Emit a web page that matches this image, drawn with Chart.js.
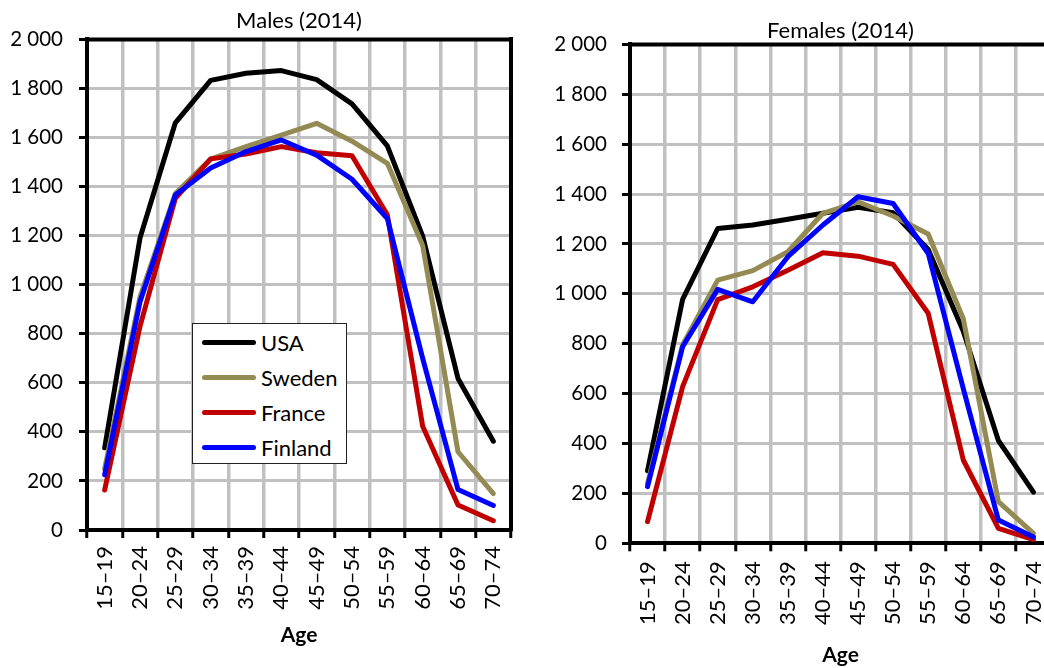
<!DOCTYPE html>
<html>
<head>
<meta charset="utf-8">
<title>Males and Females (2014)</title>
<script src="https://cdn.jsdelivr.net/npm/chart.js@4"></script>
<style>
  html, body { margin: 0; padding: 0; width: 1044px; height: 668px; overflow: hidden; background: #fff; }
  .wrap { position: absolute; top: 0; height: 668px; }
  #malesWrap { left: 0; width: 598px; }
  #femalesWrap { left: 540px; width: 601px; }
  #legend {
    position: absolute; left: 192px; top: 323px; width: 155px; height: 141px;
    border: 1px solid #222; background: #fff; box-sizing: border-box;
    font-family: Lato, sans-serif; font-size: 22px; color: #000; z-index: 5;
  }
  .row { position: absolute; left: 0; height: 35px; display: flex; align-items: center; }
  .swatch { width: 54px; height: 5px; border-radius: 3px; margin-left: 9px; margin-right: 5px; }
</style>
</head>
<body>
<div class="wrap" id="malesWrap"><canvas id="males"></canvas></div>
<div class="wrap" id="femalesWrap"><canvas id="females"></canvas></div>
<div id="legend"></div>

<script>
// Age groups on the x axis
const ageGroups = ['15–19', '20–24', '25–29', '30–34', '35–39', '40–44',
                   '45–49', '50–54', '55–59', '60–64', '65–69', '70–74'];

const seriesNames = ['USA', 'Sweden', 'France', 'Finland'];
const seriesColors = ['#000000', '#948A54', '#C00000', '#0000FF'];

// Males (2014)
const maleUSA     = [335, 1190, 1660, 1833, 1862, 1873, 1836, 1737, 1566, 1198, 618, 362];
const maleSweden  = [250, 950, 1372, 1512, 1563, 1610, 1658, 1585, 1495, 1160, 319, 148];
const maleFrance  = [163, 830, 1352, 1513, 1533, 1563, 1538, 1526, 1285, 423, 102, 38];
const maleFinland = [225, 930, 1366, 1476, 1543, 1590, 1528, 1430, 1270, 700, 165, 100];

// Females (2014)
const femaleUSA     = [291, 978, 1262, 1276, 1299, 1323, 1347, 1325, 1178, 850, 412, 205];
const femaleSweden  = [240, 795, 1055, 1093, 1169, 1323, 1369, 1312, 1240, 900, 167, 40];
const femaleFrance  = [87, 628, 977, 1028, 1095, 1165, 1151, 1118, 922, 334, 60, 15];
const femaleFinland = [227, 788, 1018, 968, 1149, 1276, 1389, 1362, 1162, 620, 93, 25];

const FONT = 'Lato, sans-serif';

// top edge of the plot box (the right edge comes from the y2 axis border)
const frame = {
    id: 'frame',
    afterDatasetsDraw(chart) {
        const { ctx, chartArea: a } = chart;
        ctx.save();
        ctx.strokeStyle = '#000';
        ctx.lineWidth = 4;
        ctx.beginPath();
        ctx.moveTo(a.left - 2, a.top);
        ctx.lineTo(a.right + 2, a.top);
        ctx.stroke();
        ctx.restore();
    }
};

function spaced(v) {
    return String(v).replace(/\B(?=(\d{3})+(?!\d))/g, ' ');
}

function makeChart(id, title, values, opt) {
    const datasets = values.map((data, i) => ({
        label: seriesNames[i],
        data: data,
        borderColor: seriesColors[i],
        backgroundColor: seriesColors[i],
        borderWidth: 5,
        pointRadius: 0,
        tension: 0,
        fill: false,
        borderCapStyle: 'round',
        borderJoinStyle: 'round',
        order: values.length - i   // later series on top
    }));

    return new Chart(document.getElementById(id), {
        type: 'line',
        data: { labels: ageGroups, datasets: datasets },
        options: {
            responsive: true,
            maintainAspectRatio: false,
            animation: false,
            layout: { padding: 0 },
            plugins: {
                legend: { display: false },
                tooltip: { enabled: false },
                title: {
                    display: true,
                    text: title,
                    color: '#000',
                    font: { family: FONT, size: 22, weight: 'normal' },
                    padding: { top: opt.titleTop, bottom: opt.titleBottom }
                }
            },
            scales: {
                x: {
                    offset: true,
                    afterFit: s => { s.height = opt.xHeight; },
                    grid: { offset: true, color: '#c0c0c0', lineWidth: 3.5,
                            tickColor: '#000', tickWidth: 3, tickLength: 8 },
                    border: { color: '#000', width: 4 },
                    ticks: { color: '#000', font: { family: FONT, size: 22 },
                             minRotation: 90, maxRotation: 90, padding: opt.xPad, autoSkip: false },
                    title: { display: true, text: 'Age', color: '#000',
                             font: { family: FONT, size: 21, weight: 'bold' },
                             padding: { top: 0, bottom: opt.agePad } }
                },
                y: {
                    min: 0,
                    max: 2000,
                    afterFit: s => { s.width = opt.yWidth; },
                    grid: { color: '#c0c0c0', lineWidth: 3,
                            tickColor: '#000', tickWidth: 3, tickLength: 8 },
                    border: { color: '#000', width: 4 },
                    ticks: { stepSize: 200, color: '#000', font: { family: FONT, size: 20.5 },
                             padding: opt.yPad, callback: v => spaced(v) }
                },
                // empty right axis: same width as the left one so the title centres on the plot
                y2: {
                    position: 'right',
                    min: 0,
                    max: 2000,
                    afterFit: s => { s.width = opt.yWidth; },
                    grid: { display: false },
                    border: { color: '#000', width: 4 },
                    ticks: { display: false }
                }
            }
        },
        plugins: [frame]
    });
}

makeChart('males', 'Males (2014)',
    [maleUSA, maleSweden, maleFrance, maleFinland],
    { yWidth: 87, xHeight: 138, titleTop: 8, titleBottom: 5, xPad: 8, agePad: 20, yPad: 16 });

makeChart('females', 'Females (2014)',
    [femaleUSA, femaleSweden, femaleFrance, femaleFinland],
    { yWidth: 90, xHeight: 124.7, titleTop: 18, titleBottom: 0, xPad: 10, agePad: 0, yPad: 15 });

// legend box inside the males chart
const legend = document.getElementById('legend');
seriesNames.forEach((name, i) => {
    legend.innerHTML += `<div class="row" style="top:${1 + i * 35}px">
        <span class="swatch" style="background:${seriesColors[i]}"></span>${name}</div>`;
});
</script>
</body>
</html>
